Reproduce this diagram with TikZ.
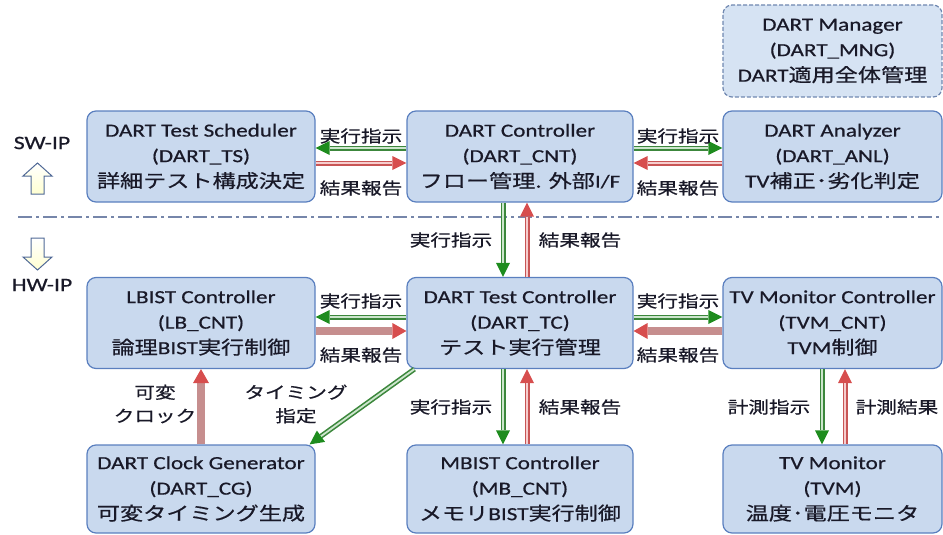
\documentclass[tikz,border=0pt]{standalone}
\usepackage{fontspec}
\setmainfont{Carlito}[FakeStretch=1.25,FakeBold=0.6]
\newfontfamily\jp{Noto Sans CJK JP}[FakeStretch=1.25,FakeBold=0.6]
\usetikzlibrary{arrows.meta,calc}
\definecolor{boxFill}{RGB}{201,217,238}
\definecolor{boxEdge}{RGB}{90,127,191}
\definecolor{mngFill}{RGB}{214,227,243}
\definecolor{mngEdge}{RGB}{112,136,176}
\definecolor{txt}{RGB}{25,25,40}
\definecolor{gEdge}{RGB}{60,135,60}
\definecolor{gLight}{RGB}{205,230,205}
\definecolor{gHead}{RGB}{30,140,30}
\definecolor{rEdge}{RGB}{200,85,85}
\definecolor{rLight}{RGB}{246,205,205}
\definecolor{rHead}{RGB}{215,78,78}
\definecolor{rThick}{RGB}{198,142,142}
\definecolor{sepCol}{RGB}{118,134,170}
\definecolor{blkEdge}{RGB}{80,105,150}
\newcommand\bfnt{\fontsize{18.5}{25.5}\selectfont}
\newcommand\lfnt{\jp\fontsize{16.5}{23.5}\selectfont}
\begin{document}
\begin{tikzpicture}[x=1pt,y=-1pt,
  box/.style={draw=boxEdge, fill=boxFill, line width=1.2pt, rounded corners=9pt,
    minimum height=91pt, inner sep=1pt, align=center, text=txt, font=\bfnt},
  mngbox/.style={box, draw=mngEdge, fill=mngFill, dash pattern=on 4pt off 2pt},
  lab/.style={font=\lfnt, text=txt, inner sep=0pt, align=center},
  side/.style={font=\fontsize{19}{22}\selectfont, text=txt, inner sep=0pt},
  gar/.style={draw=gEdge, line width=5pt,
    -{Triangle[length=14pt,width=14pt,line width=0pt,fill=gHead,color=gHead]},
    postaction={draw=gLight, line width=1.8pt, -, shorten >=14pt}},
  rar/.style={draw=rEdge, line width=5pt,
    -{Triangle[length=14pt,width=14pt,line width=0pt,fill=rHead,color=rHead]},
    postaction={draw=rLight, line width=1.8pt, -, shorten >=14pt}},
  rthick/.style={draw=rThick, line width=8pt,
    -{Triangle[length=14pt,width=16pt,line width=0pt,fill=rHead,color=rHead]}},
  blk/.style={draw=blkEdge, line width=1pt, top color=white, bottom color=yellow!18},
  sepline/.style={draw=sepCol, line width=1.5pt, dash pattern=on 14pt off 4pt on 3pt off 4pt}
]
\useasboundingbox (0,0) rectangle (943,535);

% boxes
\node[mngbox, minimum width=219pt, minimum height=92pt] (mng) at (832.5,51) {DART Manager\\(DART\_MNG)\\DART{\jp 適用全体管理}};
\node[box, minimum width=228pt] (ts) at (201,156.5) {DART Test Scheduler\\(DART\_TS)\\{\jp 詳細テスト構成決定}};
\node[box, minimum width=226pt] (cnt) at (520,156.5) {DART Controller\\(DART\_CNT)\\{\jp フロー管理. 外部}I/F};
\node[box, minimum width=219pt] (anl) at (832.5,156.5) {DART Analyzer\\(DART\_ANL)\\TV{\jp 補正･劣化判定}};
\node[box, minimum width=228pt] (lb) at (201,323) {LBIST Controller\\(LB\_CNT)\\{\jp 論理}BIST{\jp 実行制御}};
\node[box, minimum width=226pt] (tc) at (520,323) {DART Test Controller\\(DART\_TC)\\{\jp テスト実行管理}};
\node[box, minimum width=219pt] (tvmc) at (832.5,323) {TV Monitor Controller\\(TVM\_CNT)\\TVM{\jp 制御}};
\node[box, minimum width=228pt, minimum height=88pt] (cg) at (201,489) {DART Clock Generator\\(DART\_CG)\\{\jp 可変タイミング生成}};
\node[box, minimum width=226pt, minimum height=88pt] (mb) at (520,489) {MBIST Controller\\(MB\_CNT)\\{\jp メモリ}BIST{\jp 実行制御}};
\node[box, minimum width=219pt, minimum height=88pt] (tvm) at (832.5,489) {TV Monitor\\(TVM)\\{\jp 温度･電圧モニタ}};

% separator and side labels
\draw[sepline] (18,217) -- (943,217);
\node[side] (sw) at (42,143) {SW-IP};
\node[side] (hw) at (42,285) {HW-IP};
\draw[blk] (37.5,163) -- (52,176) -- (44,176) -- (44,194) -- (31,194) -- (31,176) -- (23,176) -- cycle;
\draw[blk] (31,238) -- (44,238) -- (44,257) -- (52,257) -- (37.5,270) -- (23,257) -- (31,257) -- cycle;

% top row connectors
\draw[gar] ([yshift=8.5pt]cnt.west) -- ([yshift=8.5pt]ts.east);
\draw[rar] ([yshift=-6.5pt]ts.east) -- ([yshift=-6.5pt]cnt.west);
\draw[gar] ([yshift=8.5pt]cnt.east) -- ([yshift=8.5pt]anl.west);
\draw[rar] ([yshift=-6.5pt]anl.west) -- ([yshift=-6.5pt]cnt.east);
% vertical CNT-TC
\draw[gar] ([xshift=-17pt]cnt.south) -- ([xshift=-17pt]tc.north);
\draw[rar] ([xshift=7pt]tc.north) -- ([xshift=7pt]cnt.south);
% middle row
\draw[gar] ([yshift=6pt]tc.west) -- ([yshift=6pt]lb.east);
\draw[rthick] ([yshift=-8pt]lb.east) -- ([yshift=-8pt]tc.west);
\draw[gar] ([yshift=6pt]tc.east) -- ([yshift=6pt]tvmc.west);
\draw[rthick] ([yshift=-8pt]tvmc.west) -- ([yshift=-8pt]tc.east);
% lower verticals
\draw[gar] ([xshift=-17pt]tc.south) -- ([xshift=-17pt]mb.north);
\draw[rar] ([xshift=7pt]mb.north) -- ([xshift=7pt]tc.south);
\draw[gar] ([xshift=-10.5pt]tvmc.south) -- ([xshift=-10.5pt]tvm.north);
\draw[rar] ([xshift=12.5pt]tvm.north) -- ([xshift=12.5pt]tvmc.south);
\draw[rthick] (cg.north) -- (lb.south);
\draw[gar] ([xshift=8pt]tc.south west) -- ([xshift=-6pt]cg.north east);

% labels
\node[lab] (l1) at (361,136) {実行指示};
\node[lab] (l2) at (361,188) {結果報告};
\node[lab] (l3) at (678,136) {実行指示};
\node[lab] (l4) at (678,188) {結果報告};
\node[lab] (l5) at (361,301) {実行指示};
\node[lab] (l6) at (361,355) {結果報告};
\node[lab] (l7) at (678,301) {実行指示};
\node[lab] (l8) at (678,355) {結果報告};
\node[lab] (l9) at (451,240) {実行指示};
\node[lab] (l10) at (580,240) {結果報告};
\node[lab] (l11) at (451,407) {実行指示};
\node[lab] (l12) at (580,407) {結果報告};
\node[lab] (l13) at (769,407) {計測指示};
\node[lab] (l14) at (897,407) {計測結果};
\node[lab] (l15) at (155,404) {可変\\クロック};
\node[lab] (l16) at (296,404) {タイミング\\指定};
\end{tikzpicture}
\end{document}
